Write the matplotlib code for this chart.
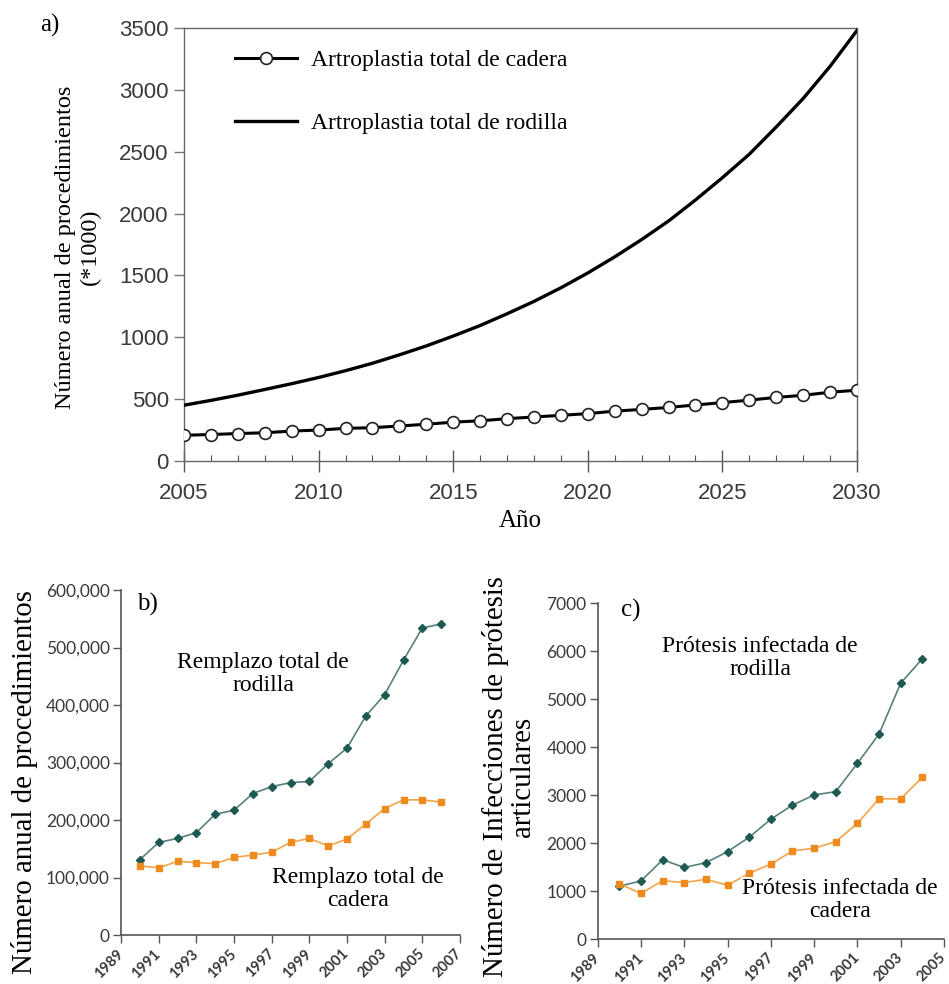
import matplotlib
matplotlib.use("Agg")
import matplotlib.pyplot as plt
from matplotlib.ticker import MultipleLocator, FuncFormatter

# ---- Panel a: projected annual procedures (thousands), 2005-2030 ----
years_a = list(range(2005, 2031))
hip_a = [208, 214, 222, 228, 242, 250, 264, 269, 283, 297, 314, 325, 342,
         356, 369, 383, 403, 417, 433, 453, 472, 492, 514, 531, 556, 572]
knee_a = [451, 490, 532, 578, 625, 675, 730, 790, 858, 930, 1010, 1095, 1190,
          1290, 1400, 1520, 1650, 1790, 1940, 2110, 2290, 2480, 2700, 2930,
          3190, 3480]

# ---- Panel b: annual joint replacements, 1990-2006 ----
years_b = list(range(1990, 2007))
knee_b = [131000, 161000, 168000, 178000, 210000, 217000, 246000, 258000,
          265000, 267000, 298000, 325000, 381000, 418000, 478000, 534000,
          541000]
hip_b = [120000, 117000, 128000, 126000, 124000, 135000, 139000, 144000,
         161000, 168000, 155000, 167000, 193000, 220000, 235000, 235000,
         231000]

# ---- Panel c: infected prostheses, 1990-2004 ----
years_c = list(range(1990, 2005))
knee_c = [1100, 1210, 1650, 1490, 1590, 1820, 2120, 2495, 2790, 3000, 3070,
          3660, 4270, 5330, 5840]
hip_c = [1150, 950, 1215, 1175, 1245, 1120, 1370, 1560, 1835, 1890, 2030,
         2410, 2920, 2920, 3370]

SERIF = ["Liberation Serif", "DejaVu Serif"]
SANS_A = ["Liberation Sans", "DejaVu Sans"]
SANS_BC = ["Lato", "DejaVu Sans"]
TEAL_LINE = "#56807e"
TEAL_MK = "#1f5a52"
ORANGE_LINE = "#f2a54a"
ORANGE_MK = "#ee8a1e"
TICK_COL = "#3a3a3a"

W, H = 949, 984
fig = plt.figure(figsize=(W / 100, H / 100), dpi=100)


def fx(px):
    return px / W


def fy(py):
    return 1 - py / H


# ================= Panel a =================
ax = fig.add_axes([fx(184), fy(461), 673 / W, 433 / H])
ax.plot(years_a, hip_a, color="black", lw=2.2, marker="o", ms=8.5,
        mfc="white", mec="#222222", mew=1.2,
        label="Artroplastia total de cadera", zorder=3)
ax.plot(years_a, knee_a, color="black", lw=2.4,
        label="Artroplastia total de rodilla", zorder=3)
ax.set_xlim(2005, 2030)
ax.set_ylim(0, 3500)
ax.xaxis.set_major_locator(MultipleLocator(5))
ax.xaxis.set_minor_locator(MultipleLocator(1))
ax.yaxis.set_major_locator(MultipleLocator(500))
for s in ax.spines.values():
    s.set_color("#666666")
    s.set_linewidth(1.0)
ax.tick_params(axis="x", which="major", direction="inout", length=16,
               width=1.0, color="#555555", pad=8)
ax.tick_params(axis="x", which="minor", direction="in", length=4,
               width=0.8, color="#555555")
ax.tick_params(axis="y", which="major", direction="out", length=7,
               width=1.0, color="#777777", pad=4)
for lab in ax.get_xticklabels() + ax.get_yticklabels():
    lab.set_family(SANS_A)
    lab.set_fontsize(16)
    lab.set_color(TICK_COL)
ax.set_xlabel("Año", family=SERIF, fontsize=18, labelpad=4)
fig.text(fx(78), fy(247), "Número anual de procedimientos\n(*1000)",
         family=SERIF, fontsize=17.5, rotation=90, ha="center", va="center",
         linespacing=1.25, multialignment="center")
ax.legend(loc="upper left", bbox_to_anchor=(0.076, 0.95),
          frameon=False, prop={"family": SERIF, "size": 17},
          handlelength=2.6, handletextpad=0.6, labelspacing=1.75,
          borderpad=0, borderaxespad=0)
fig.text(fx(40), fy(25), "a)", family=SERIF, fontsize=18,
         ha="left", va="center")

# ================= Panel b =================
bx = fig.add_axes([fx(121), fy(935), 339 / W, 345 / H])
bx.plot(years_b, knee_b, color=TEAL_LINE, lw=1.2, marker="D", ms=4.5,
        mfc=TEAL_MK, mec=TEAL_MK, zorder=3)
bx.plot(years_b, hip_b, color=ORANGE_LINE, lw=1.2, marker="s", ms=5,
        mfc=ORANGE_MK, mec=ORANGE_MK, zorder=3)
bx.set_xlim(1989, 2007)
bx.set_ylim(0, 600000)
bx.set_xticks(list(range(1989, 2008, 2)))
bx.yaxis.set_major_locator(MultipleLocator(100000))
bx.yaxis.set_major_formatter(FuncFormatter(lambda v, p: f"{int(v):,}"))
fig.text(fx(25), fy(782), "Número anual de procedimientos", family=SERIF,
         fontsize=20.8, rotation=90, ha="center", va="center")
bx.text(0.047, 0.957, "b)", transform=bx.transAxes, family=SERIF,
        fontsize=18, ha="left", va="center")
bx.text(0.419, 0.757, "Remplazo total de\nrodilla", transform=bx.transAxes,
        family=SERIF, fontsize=17, ha="center", va="center", linespacing=1.1)
bx.text(0.70, 0.133, "Remplazo total de\ncadera", transform=bx.transAxes,
        family=SERIF, fontsize=17, ha="center", va="center", linespacing=1.1,
        bbox=dict(facecolor="white", edgecolor="none", pad=1))

# ================= Panel c =================
cx = fig.add_axes([fx(597.7), fy(939), 346.3 / W, 336 / H])
cx.plot(years_c, knee_c, color=TEAL_LINE, lw=1.2, marker="D", ms=4.5,
        mfc=TEAL_MK, mec=TEAL_MK, zorder=3)
cx.plot(years_c, hip_c, color=ORANGE_LINE, lw=1.2, marker="s", ms=5,
        mfc=ORANGE_MK, mec=ORANGE_MK, zorder=3)
cx.set_xlim(1989, 2005)
cx.set_ylim(0, 7000)
cx.set_xticks(list(range(1989, 2006, 2)))
cx.yaxis.set_major_locator(MultipleLocator(1000))
fig.text(fx(509), fy(777), "Número de Infecciones de prótesis\narticulares",
         family=SERIF, fontsize=20.8, rotation=90, ha="center", va="center",
         linespacing=1.05, multialignment="center")
cx.text(0.067, 0.979, "c)", transform=cx.transAxes, family=SERIF,
        fontsize=18, ha="left", va="center")
cx.text(0.469, 0.836, "Prótesis infectada de\nrodilla", transform=cx.transAxes,
        family=SERIF, fontsize=17, ha="center", va="center", linespacing=1.1)
cx.text(0.70, 0.116, "Prótesis infectada de\ncadera", transform=cx.transAxes,
        family=SERIF, fontsize=17, ha="center", va="center", linespacing=1.1,
        bbox=dict(facecolor="white", edgecolor="none", pad=1))

for a in (bx, cx):
    a.spines["top"].set_visible(False)
    a.spines["right"].set_visible(False)
    for s in ("left", "bottom"):
        a.spines[s].set_color("#555555")
        a.spines[s].set_linewidth(1.2)
    a.tick_params(direction="out", length=6, width=1.0, color="#555555",
                  pad=2)
    for lab in a.get_yticklabels():
        lab.set_family(SANS_BC)
        lab.set_fontsize(12.5)
        lab.set_color(TICK_COL)
    for lab in a.get_xticklabels():
        lab.set_family(SANS_BC)
        lab.set_fontsize(10.5)
        lab.set_color(TICK_COL)
        lab.set_fontweight("bold")
        lab.set_rotation(45)
        lab.set_ha("right")
        lab.set_va("center")
        lab.set_rotation_mode("anchor")
    a.tick_params(axis="x", pad=6)

fig.savefig("out.png", dpi=100)
